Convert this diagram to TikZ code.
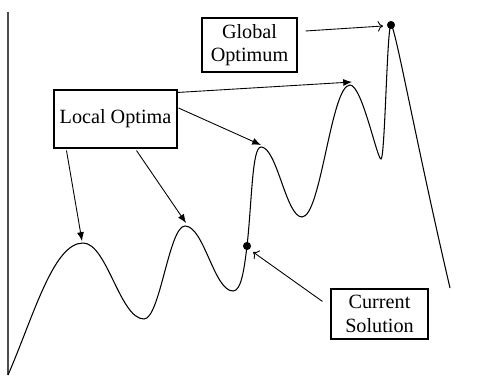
\documentclass[tikz,border=0pt]{standalone}
\usepackage{fontspec}
\setmainfont{Liberation Serif}
\usetikzlibrary{arrows.meta}

\begin{document}
\begin{tikzpicture}[x=0.02cm,y=-0.02cm,
  labelbox/.style={draw,line width=0.6pt,align=center,inner sep=0pt,
    font=\fontsize{11.5}{13.2}\selectfont},
  solidtip/.style={-{Latex[length=5pt,width=4pt]},line width=0.5pt},
  opentip/.style={-{To[length=3pt,width=6pt]},line width=0.5pt}]
  \useasboundingbox (0,0) rectangle (479,377);
  % Vertical axis.
  \coordinate (axtop) at (8,12);
  \coordinate (axbot) at (8,375);
  \draw[line width=1pt,black!70] (axtop) -- (axbot);
  % Peaks and troughs of the landscape.
  \coordinate (p1) at (83,243);
  \coordinate (t1) at (144,319);
  \coordinate (p2) at (185,226);
  \coordinate (t2) at (233,291);
  \coordinate (cur) at (247,246);
  \coordinate (p3) at (261,147);
  \coordinate (t3) at (302,217);
  \coordinate (p4) at (350,85);
  \coordinate (t4) at (381,159);
  \coordinate (p5) at (391,25);
  \coordinate (tail) at (450,288);
  % The landscape itself.
  \draw[line width=0.6pt] (axbot)
    .. controls +(25,-57) and +(-30,0) .. (p1)
    .. controls +(24,0) and +(-24,0) .. (t1)
    .. controls +(16,0) and +(-16,0) .. (p2)
    .. controls +(19,0) and +(-19,0) .. (t2)
    .. controls +(8,0) and +(-3,25) .. (cur)
    .. controls +(5,-45) and +(-9,0) .. (p3)
    .. controls +(16,0) and +(-16,0) .. (t3)
    .. controls +(19,0) and +(-19,0) .. (p4)
    .. controls +(12,0) and +(-4,0) .. (t4)
    .. controls +(4,0) and +(-4,0) .. (p5)
    .. controls +(4,0) and +(-35,-150) .. (tail);
  % Marked points.
  \fill (cur) circle (2.3pt);
  \fill (p5) circle (2.3pt);
  % Labels.
  \node[labelbox,minimum width=1.9cm,minimum height=1.08cm] (glob) at (249.5,45) {Global\\Optimum};
  \node[labelbox,minimum width=2.46cm,minimum height=1.16cm] (loc) at (115.5,119) {Local Optima};
  \node[labelbox,minimum width=1.94cm,minimum height=1cm] (curr) at (379.5,314) {Current\\Solution};
  % Arrows.
  \draw[opentip] ([shift={(8,-14)}]glob.east) -- ([shift={(-8,1)}]p5);
  \draw[solidtip] ([shift={(0,3)}]loc.north east) -- ([shift={(2,-3)}]p4);
  \draw[solidtip] ([shift={(1,-11)}]loc.east) -- ([shift={(0,-2)}]p3);
  \draw[solidtip] ([shift={(13,2)}]loc.south west) -- ([shift={(-1,-2)}]p1);
  \draw[solidtip] ([shift={(83,2)}]loc.south west) -- ([shift={(1,-3)}]p2);
  \draw[opentip] ([shift={(-8,13)}]curr.north west) -- ([shift={(6,6)}]cur);
\end{tikzpicture}
\end{document}
